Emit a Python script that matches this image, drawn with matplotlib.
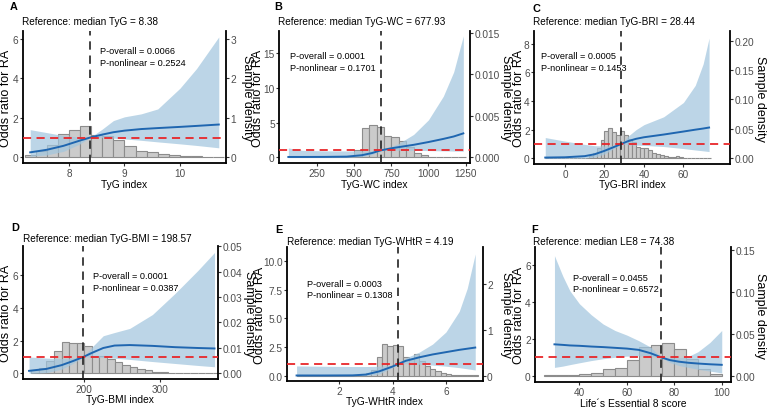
import numpy as np
import matplotlib
matplotlib.use("Agg")
import matplotlib.pyplot as plt

plt.rcParams['font.family'] = ['Liberation Sans', 'DejaVu Sans']

W, H = 767, 410

# ---------------- A : TyG ----------------
a_x  = [7.3, 7.6, 7.9, 8.2, 8.38, 8.6, 8.8, 9.0, 9.3, 9.6, 10.0, 10.3, 10.7]
a_or = [0.25, 0.38, 0.58, 0.85, 1.0, 1.15, 1.27, 1.35, 1.43, 1.48, 1.54, 1.59, 1.66]
a_hi = [1.4, 1.25, 1.1, 1.02, 1.0, 1.43, 1.86, 2.05, 2.2, 2.45, 3.5, 4.5, 6.1]
a_lo = [0.05, 0.12, 0.3, 0.68, 1.0, 1.0, 0.97, 0.93, 0.86, 0.78, 0.68, 0.6, 0.48]
a_bins = np.linspace(7.2, 10.8, 19)
a_dens = [0.07, 0.16, 0.3, 0.6, 0.7, 0.78, 0.57, 0.55, 0.43, 0.28, 0.17, 0.13,
          0.08, 0.05, 0.03, 0.02, 0.015, 0.015]

# ---------------- B : TyG-WC ----------------
b_x  = [55, 150, 300, 450, 550, 620, 677.93, 750, 800, 900, 1000, 1100, 1170, 1235]
b_or = [0.05, 0.05, 0.06, 0.1, 0.3, 0.62, 1.0, 1.3, 1.47, 1.8, 2.2, 2.65, 3.0, 3.45]
b_hi = [1.35, 1.0, 0.93, 0.92, 0.92, 0.95, 1.0, 1.55, 2.0, 3.3, 5.4, 8.8, 12.3, 17.5]
b_lo = [0.0, 0.0, 0.0, 0.02, 0.1, 0.4, 1.0, 1.05, 1.03, 1.0, 0.97, 0.93, 0.9, 0.88]
b_bins = np.linspace(50, 1250, 25)
b_dens = [0.00003, 0.00003, 0.00003, 0.00003, 0.00003, 0.00003, 0.00003, 0.00005,
          0.0001, 0.0009, 0.0035, 0.0039, 0.0037, 0.0026, 0.0024, 0.002, 0.0013,
          0.0005, 0.0003, 0.00005, 0.00004, 0.00004, 0.00003, 0.00003]

# ---------------- C : TyG-BRI ----------------
c_x  = [-10, 0, 10, 15, 20, 25, 28.44, 32, 36, 40, 50, 60, 66, 70, 73]
c_or = [0.05, 0.07, 0.15, 0.28, 0.52, 0.8, 1.0, 1.2, 1.36, 1.47, 1.66, 1.87, 2.0, 2.08, 2.15]
c_hi = [1.45, 1.2, 0.97, 0.88, 0.86, 0.9, 1.0, 1.55, 2.0, 2.35, 2.9, 3.9, 5.1, 6.6, 8.4]
c_lo = [0.0, 0.0, 0.02, 0.08, 0.3, 0.7, 1.0, 0.95, 0.92, 0.9, 0.82, 0.68, 0.58, 0.52, 0.47]
c_bins = np.linspace(-10, 74, 43)
c_dens = [0.0005] * 10 + [0.001, 0.004, 0.0097, 0.0168, 0.031, 0.046, 0.052, 0.0445,
          0.040, 0.0457, 0.039, 0.033, 0.027, 0.020, 0.0168, 0.0168, 0.0145, 0.0097,
          0.007, 0.005, 0.004, 0.0023, 0.0017, 0.0046, 0.0017] + [0.0008] * 7

# ---------------- D : TyG-BMI ----------------
d_x  = [127, 150, 170, 185, 198.57, 210, 225, 240, 260, 290, 320, 350, 372]
d_or = [0.15, 0.27, 0.5, 0.75, 1.0, 1.25, 1.55, 1.7, 1.73, 1.68, 1.6, 1.55, 1.52]
d_hi = [1.0, 0.93, 0.9, 0.93, 1.0, 1.6, 2.3, 2.5, 2.75, 3.6, 4.9, 6.3, 7.4]
d_lo = [0.0, 0.04, 0.25, 0.6, 1.0, 1.0, 0.97, 0.92, 0.85, 0.72, 0.6, 0.48, 0.4]
d_bins = np.linspace(130, 380, 26)
d_dens = [0.0011, 0.002, 0.005, 0.0089, 0.0123, 0.012, 0.012, 0.0107, 0.0068, 0.0068,
          0.0057, 0.0045, 0.0034, 0.0023, 0.0016, 0.0014, 0.0007, 0.0005, 0.0003,
          0.0003, 0.0002, 0.0002, 0.0002, 0.0002, 0.0002]

# ---------------- E : TyG-WHtR ----------------
e_x  = [0.4, 1.5, 2.5, 3.0, 3.5, 4.0, 4.19, 4.5, 5.0, 5.5, 6.0, 6.5, 6.8, 7.1]
e_or = [0.02, 0.02, 0.03, 0.1, 0.38, 0.8, 1.0, 1.3, 1.6, 1.85, 2.05, 2.25, 2.35, 2.45]
e_hi = [0.85, 0.82, 0.8, 0.8, 0.82, 0.9, 1.0, 1.55, 2.05, 2.75, 3.8, 5.6, 7.6, 10.6]
e_lo = [0.0, 0.0, 0.0, 0.01, 0.15, 0.7, 1.0, 1.05, 1.0, 0.92, 0.83, 0.7, 0.6, 0.5]
e_bins = np.linspace(0.4, 7.2, 35)
e_dens = [0.01] * 12 + [0.03, 0.06, 0.13, 0.4, 0.7, 0.65, 0.67, 0.65, 0.4, 0.36, 0.47,
          0.32, 0.21, 0.15, 0.095, 0.06, 0.045] + [0.02] * 5

# ---------------- F : LE8 ----------------
f_x  = [29.5, 33, 36, 40, 45, 50, 55, 60, 65, 70, 74.38, 78, 82, 86, 90, 95, 100]
f_or = [1.7, 1.67, 1.64, 1.62, 1.58, 1.55, 1.51, 1.47, 1.4, 1.22, 1.0, 0.85, 0.76, 0.7,
        0.66, 0.62, 0.59]
f_hi = [6.5, 5.4, 4.6, 3.9, 3.3, 2.8, 2.45, 2.2, 1.9, 1.55, 1.0, 0.98, 0.97, 1.05, 1.3,
        1.8, 2.45]
f_lo = [0.45, 0.52, 0.6, 0.7, 0.82, 0.92, 1.0, 1.06, 1.08, 1.04, 1.0, 0.72, 0.55, 0.45,
        0.35, 0.25, 0.15]
f_bins = np.linspace(25, 100, 16)
f_dens = [0.0004, 0.0008, 0.0004, 0.0015, 0.0035, 0.0075, 0.0098, 0.019, 0.034, 0.037,
          0.039, 0.032, 0.02, 0.008, 0.002]

medians = [8.38, 677.93, 28.44, 198.57, 4.19, 74.38]
titles = ["Reference: median TyG = 8.38", "Reference: median TyG-WC = 677.93",
          "Reference: median TyG-BRI = 28.44", "Reference: median TyG-BMI = 198.57",
          "Reference: median TyG-WHtR = 4.19", "Reference: median LE8 = 74.38"]
xlabels = ["TyG index", "TyG-WC index", "TyG-BRI index", "TyG-BMI index",
           "TyG-WHtR index", "Life\u00b4s Essential 8 score"]
p_overall = ["0.0066", "0.0001", "0.0005", "0.0001", "0.0003", "0.0455"]
p_nonlin = ["0.2524", "0.1701", "0.1453", "0.0387", "0.1308", "0.6572"]
letters = ["A", "B", "C", "D", "E", "F"]

fig = plt.figure(figsize=(W / 100, H / 100), dpi=100)


def fx(x):
    return x / W


def fy(y):
    return 1 - y / H


def panel(i, box, xlim, ylim, fac, x, orr, lo, hi, bins, dens,
          xt, yt, ytl, rt, rtl, letter_xy, title_xy, p_xy, ylab_x, rlab_x, xlab_y):
    l, t, r, b = box
    ax = fig.add_axes([fx(l), fy(b), (r - l) / W, (b - t) / H])
    ax2 = ax.twinx()
    ax.set_zorder(ax2.get_zorder() + 1)
    ax.patch.set_visible(False)

    # histogram on the density axis (behind)
    ax2.bar(bins[:-1], dens, width=np.diff(bins), align='edge', color='#cbcbcb',
            edgecolor='#8c8c8c', linewidth=0.8)
    ax.fill_between(x, lo, hi, color='#a2c6de', alpha=0.72, lw=0, zorder=2)
    ax.plot(x, orr, color='#1f66b0', lw=1.4, zorder=3)
    ax.axhline(1, color='#e8262a', lw=1.3, dashes=(4.5, 3), zorder=4)
    ax.axvline(medians[i], color='#222222', lw=1.2, dashes=(5, 3.5), zorder=4)

    ax.set_xlim(xlim)
    ax.set_ylim(ylim)
    ax2.set_ylim(ylim[0] * fac, ylim[1] * fac)
    ax.set_xticks(xt)
    ax.set_yticks(yt, ytl)
    ax2.set_yticks(rt, rtl)

    for a in (ax, ax2):
        a.spines['top'].set_visible(False)
        for s in a.spines.values():
            s.set_linewidth(1.3)
            s.set_color('black')
        a.tick_params(length=2.2, width=0.8, color='#333333', labelcolor='#4d4d4d',
                      pad=0.9)
    ax.spines['right'].set_visible(False)
    ax2.spines['left'].set_visible(False)
    ax2.spines['bottom'].set_visible(False)
    ax.tick_params(axis='x', labelsize=7.2, pad=1.2)
    ax.tick_params(axis='y', labelsize=7.3)
    ax2.tick_params(axis='y', labelsize=7.3)

    ax.set_ylabel("Odds ratio for RA", fontsize=9.0, va='center')
    ax.yaxis.set_label_coords((ylab_x - l) / (r - l), 0.5)
    ax2.set_ylabel("Sample density", fontsize=9.0, rotation=270, va='center')
    ax2.yaxis.set_label_coords((rlab_x - l) / (r - l), 0.5)
    ax.set_xlabel(xlabels[i], fontsize=7.4, va='center')
    ax.xaxis.set_label_coords(0.5, -(xlab_y - b) / (b - t))

    fig.text(fx(letter_xy[0]), fy(letter_xy[1]), letters[i], fontsize=7.8,
             fontweight='bold', ha='center', va='center')
    fig.text(fx(title_xy[0]), fy(title_xy[1]), titles[i], fontsize=7.2,
             ha='left', va='center')
    fig.text(fx(p_xy[0]), fy(p_xy[1]), "P-overall = " + p_overall[i], fontsize=6.6,
             ha='left', va='center')
    fig.text(fx(p_xy[0]), fy(p_xy[1] + 11.5), "P-nonlinear = " + p_nonlin[i],
             fontsize=6.6, ha='left', va='center')


panel(0, (22.7, 32, 226, 164), (7.165, 10.83), (-0.29, 6.4), 0.5,
      a_x, a_or, a_lo, a_hi, a_bins, a_dens,
      [8, 9, 10], [0, 2, 4, 6], ["0", "2", "4", "6"],
      [0, 1, 2, 3], ["0", "1", "2", "3"],
      (13.3, 7.3), (21.7, 21.7), (100, 52), 6.5, 246.5, 184.5)

panel(1, (279, 32, 470, 164), (-8, 1280), (-0.82, 18.2), 0.000838,
      b_x, b_or, b_lo, b_hi, b_bins, b_dens,
      [250, 500, 750, 1000, 1250], [0, 5, 10, 15], ["0", "5", "10", "15"],
      [0, 0.005, 0.010, 0.015], ["0.000", "0.005", "0.010", "0.015"],
      (277.7, 7.3), (278.3, 21.7), (290, 56.7), 258, 505.5, 184.5)

panel(2, (534, 32, 730, 165), (-15.7, 83.6), (-0.4, 8.9), 0.0243,
      c_x, c_or, c_lo, c_hi, c_bins, c_dens,
      [0, 20, 40, 60], [0, 2, 4, 6, 8], ["0", "2", "4", "6", "8"],
      [0, 0.05, 0.10, 0.15, 0.20], ["0.00", "0.05", "0.10", "0.15", "0.20"],
      (536, 9.3), (532.7, 21.7), (540.7, 56.7), 519, 759.5, 185)

panel(3, (22.7, 247, 218, 380), (118.6, 376.6), (-0.35, 7.8), 0.00642,
      d_x, d_or, d_lo, d_hi, d_bins, d_dens,
      [200, 300], [0, 2, 4, 6], ["0", "2", "4", "6"],
      [0, 0.01, 0.02, 0.03, 0.04, 0.05], ["0.00", "0.01", "0.02", "0.03", "0.04", "0.05"],
      (15, 227.7), (22.7, 239), (92.7, 276.7), 6.5, 249, 400)

panel(4, (286.7, 248, 482.7, 382), (0.03, 7.38), (-0.46, 11.2), 0.25,
      e_x, e_or, e_lo, e_hi, e_bins, e_dens,
      [2, 4, 6], [0, 2.5, 5.0, 7.5, 10.0], ["0.0", "2.5", "5.0", "7.5", "10.0"],
      [0, 1, 2], ["0", "1", "2"],
      (279, 230), (286.7, 241.7), (306.7, 284.3), 260, 506, 401.7)

panel(5, (535, 248, 731, 383), (21.3, 103.9), (-0.34, 6.97), 0.0221,
      f_x, f_or, f_lo, f_hi, f_bins, f_dens,
      [40, 60, 80, 100], [0, 2, 4, 6], ["0", "2", "4", "6"],
      [0, 0.05, 0.10, 0.15], ["0.00", "0.05", "0.10", "0.15"],
      (535, 230), (533.3, 241.7), (573.3, 278.3), 519, 759.5, 404)

fig.savefig("out.png", dpi=100)
